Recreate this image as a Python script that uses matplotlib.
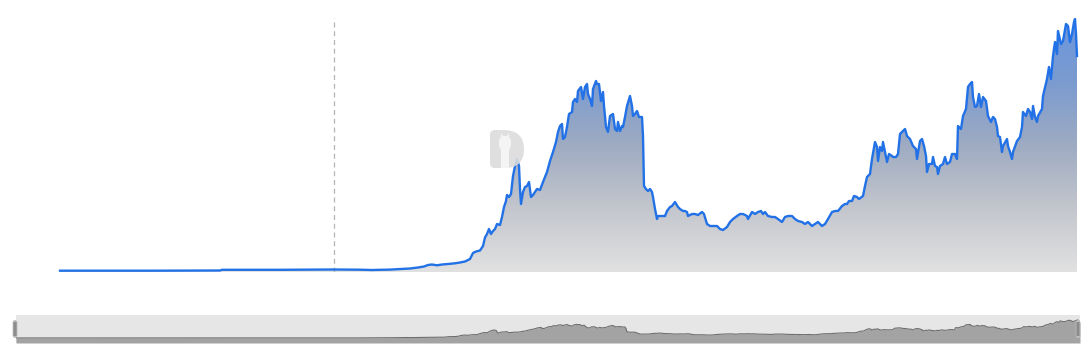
import numpy as np
import matplotlib.pyplot as plt
from matplotlib.colors import LinearSegmentedColormap
from matplotlib.patches import FancyBboxPatch, PathPatch, Polygon
from matplotlib.path import Path


# ============================================================
# DATA (time index in periods, value in arbitrary price units)
# ============================================================

t = [0, 90, 160, 162, 220, 274, 300, 312, 330, 340, 350, 358, 364, 368, 372, 377,
     382, 388, 395, 400, 405, 410, 413, 416, 420, 423, 425, 427, 429, 431, 433, 435,
     437, 440, 442, 444, 446, 447, 449, 451, 453, 455, 457, 459, 460, 461, 463, 465,
     467, 469, 471, 473, 475, 477, 480, 483, 485, 487, 490, 493, 496, 498, 500, 502,
     503, 505, 507, 509, 512, 513, 515, 517, 518, 521, 523, 525, 527, 528, 530, 532,
     533, 536, 537, 539, 541, 543, 544, 546, 548, 550, 553, 555, 557, 558, 560, 562,
     563, 565, 567, 570, 572, 573, 575, 577, 579, 582, 583, 584, 586, 588, 590, 592,
     593, 595, 597, 598, 602, 605, 607, 610, 612, 615, 618, 620, 623, 625, 627, 628,
     632, 635, 638, 642, 644, 647, 650, 653, 657, 660, 663, 667, 670, 673, 677, 680,
     683, 687, 688, 692, 695, 698, 701, 703, 705, 708, 712, 715, 718, 722, 725, 728,
     732, 735, 738, 742, 745, 748, 752, 755, 758, 762, 765, 768, 772, 775, 778, 782,
     785, 787, 789, 792, 794, 797, 799, 803, 805, 807, 810, 812, 815, 817, 818, 820,
     822, 823, 825, 827, 829, 832, 833, 836, 838, 840, 843, 845, 847, 850, 853, 856,
     857, 860, 862, 864, 866, 867, 869, 872, 873, 875, 877, 878, 880, 883, 885, 887,
     890, 892, 895, 897, 898, 901, 903, 906, 908, 910, 912, 913, 915, 917, 919, 921,
     923, 926, 928, 931, 933, 935, 937, 938, 940, 942, 943, 947, 948, 950, 952, 953,
     957, 960, 962, 963, 966, 968, 970, 972, 973, 975, 977, 978, 982, 983, 987, 989,
     991, 993, 995, 997, 998, 1001, 1003, 1006, 1008, 1010, 1012, 1014, 1015, 1016,
     1017]

price = [0.3, 0.3, 0.5, 1.2, 1.2, 1.5, 1.3, 1.0, 1.4, 2.0, 2.5, 3.5, 4.5, 6.0, 6.5,
         5.7, 6.5, 7.0, 7.7, 8.5, 9.5, 12, 18, 19.5, 20.5, 25, 33.5, 37, 42, 37, 40,
         42, 47, 46, 54, 64, 70, 76, 74, 77, 95, 105, 112, 105, 82, 67, 79, 84, 85, 89,
         74, 76, 79, 82, 81, 89, 94, 99, 110, 119, 129, 139, 145, 147, 132, 134, 144,
         157, 159, 169, 172, 169, 180, 184, 172, 184, 187, 177, 172, 165, 182, 190,
         187, 187, 170, 179, 165, 144, 139, 155, 157, 142, 140, 149, 140, 145, 144,
         154, 165, 175, 165, 155, 157, 160, 154, 154, 135, 85, 82, 80, 82, 79, 74, 62,
         52, 55, 55, 55, 60, 64, 65, 69, 64, 62, 60, 60, 59, 55, 57, 57, 56, 59, 57,
         47, 45, 45, 45, 42, 41, 44, 49, 52, 55, 57, 57, 55, 52, 59, 57, 59, 60, 57,
         59, 55, 54, 54, 52, 49, 54, 55, 55, 52, 50, 49, 47, 49, 45, 47, 49, 45, 47,
         52, 59, 60, 60, 65, 67, 67, 70, 70, 75, 74, 72, 75, 85, 94, 97, 112, 129,
         124, 110, 124, 120, 129, 119, 109, 117, 115, 114, 114, 117, 137, 140, 142,
         135, 132, 125, 122, 112, 130, 132, 125, 115, 99, 107, 107, 114, 105, 104, 97,
         105, 107, 114, 107, 109, 117, 117, 112, 145, 142, 155, 162, 184, 187, 189,
         174, 164, 165, 177, 164, 174, 170, 155, 149, 154, 152, 144, 135, 134, 119,
         125, 132, 125, 119, 112, 119, 130, 134, 144, 159, 155, 162, 159, 152, 165,
         154, 149, 155, 162, 175, 192, 204, 192, 215, 229, 217, 240, 227, 230, 247,
         245, 229, 237, 249, 252, 237, 215]

marker_t = 274  # dashed reference line

# ============================================================
# FIGURE
# ============================================================

W, H = 1089, 360
fig = plt.figure(figsize=(W / 100, H / 100), dpi=100)

ax = fig.add_axes([60 / W, 88 / H, 1017 / W, 254 / H])
ax.set_xlim(0, 1017)
ax.set_ylim(-1, 253)
ax.axis("off")

# gradient fill under the line
cmap = LinearSegmentedColormap.from_list(
    "area", ["#e1e1e1", "#c3c6cd", "#9eabc2", "#7b9bd0", "#6a96dc"])
grad = np.linspace(0, 1, 256).reshape(-1, 1)
im = ax.imshow(grad, extent=[0, 1017, -1, 253], origin="lower",
               aspect="auto", cmap=cmap, zorder=1)
poly = ax.fill_between(t, price, -1, facecolor="none", edgecolor="none")
im.set_clip_path(poly.get_paths()[0], ax.transData)

ax.plot(t, price, color="#2271e6", lw=1.7, zorder=3, clip_on=False,
        solid_joinstyle="round")
ax.axvline(marker_t, color="#b4b4b4", lw=0.9, ls=(0, (4, 3)), zorder=2)

# ------------------------------------------------------------
# watermark logo (rounded "D" with llama head)
# ------------------------------------------------------------
def px(x, y):
    return (x / W, 1 - y / H)

verts = [px(495, 130), px(505, 130),
         px(524, 131), px(524, 149), px(524, 168),
         px(505, 168), px(495, 168),
         px(490, 168), px(490, 163), px(490, 135), px(490, 130), px(495, 130)]
codes = [Path.MOVETO, Path.LINETO,
         Path.CURVE3, Path.CURVE3, Path.CURVE3, Path.CURVE3,
         Path.LINETO,
         Path.CURVE3, Path.CURVE3, Path.LINETO, Path.CURVE3, Path.CURVE3]
fig.patches.append(PathPatch(Path(verts, codes), transform=fig.transFigure,
                             facecolor="#dcdcdc", edgecolor="none", alpha=0.9,
                             zorder=5))
llama = [px(501, 168), px(501, 150), px(499, 146), px(499, 140), px(501, 137),
         px(501, 133), px(503, 136), px(507, 136), px(509, 133), px(509, 137),
         px(511, 140), px(511, 146), px(509, 150), px(509, 168)]
fig.patches.append(Polygon(llama, closed=True, transform=fig.transFigure,
                           facecolor="#f4f4f4", edgecolor="none", zorder=6))

# ============================================================
# NAVIGATOR
# ============================================================

nav = fig.add_axes([16 / W, 17 / H, 1064 / W, 28 / H])
nav.set_xlim(0, 1017)
nav.set_ylim(-70, 321)
nav.axis("off")
nav.add_patch(plt.Rectangle((0, -70), 1017, 391, facecolor="#e6e6e6",
                            edgecolor="none", zorder=0))
nav.fill_between(t, price, -70, color="#a3a3a3", lw=0, zorder=1)
nav.plot(t, price, color="#6f6f6f", lw=0.8, zorder=2)

for hx in (13, 1076):
    fig.patches.append(FancyBboxPatch(
        (hx / W, 1 - 337 / H), 4 / W, 16 / H,
        boxstyle="round,pad=0,rounding_size=0.003",
        transform=fig.transFigure, facecolor="#8c8c8c",
        edgecolor="#bdbdbd", lw=0.6, zorder=7))

fig.savefig("out.png", dpi=100)
